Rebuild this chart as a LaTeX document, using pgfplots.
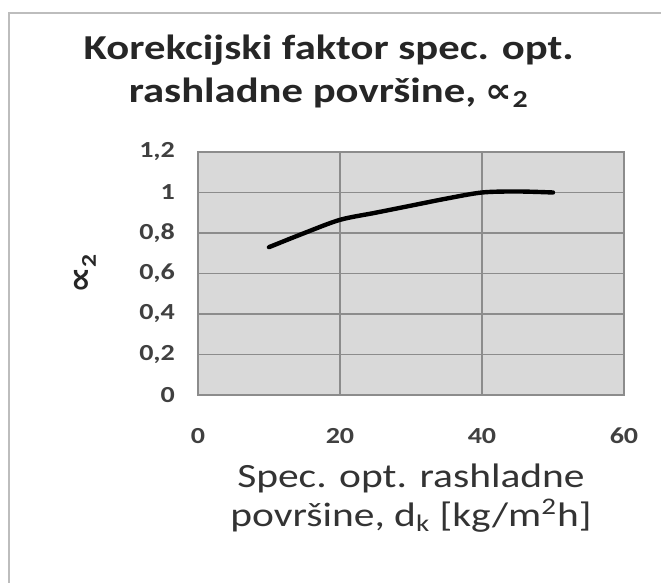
\documentclass[border=0pt]{standalone}
\usepackage{fontspec}
\setmainfont{Carlito}[FakeStretch=1.22]
\newfontfamily\dejavu{DejaVu Sans}[FakeStretch=1.1]
\usepackage{pgfplots}
\pgfplotsset{compat=1.18}
\definecolor{plotbg}{HTML}{D9D9D9}
\definecolor{gridgray}{HTML}{8C8C8C}
\definecolor{framegray}{HTML}{BDBDBD}
\begin{document}
\begin{tikzpicture}
  % page = 661 x 583 px at 0.5pt per px
  \path[use as bounding box] (0,0) rectangle (330.5pt,291.5pt);
  \draw[framegray, line width=1.3pt] (4.5pt,-10pt) rectangle (345pt,285pt);
  \begin{axis}[
    at={(99pt,94pt)}, anchor=south west,
    scale only axis,
    width=213pt, height=121.5pt,
    xmin=0, xmax=60, ymin=0, ymax=1.2,
    xtick={0,20,40,60},
    ytick={0,0.2,0.4,0.6,0.8,1,1.2},
    major tick length=0pt,
    grid=major,
    grid style={gridgray, line width=0.6pt},
    axis line style={gridgray, line width=0.6pt},
    axis background/.style={fill=plotbg},
    /pgf/number format/use comma,
    /pgf/number format/assume math mode=true,
    ticklabel style={font=\fontsize{11.5}{13}\selectfont\bfseries, text=black!75},
    yticklabel style={xshift=-8pt},
    xticklabel style={yshift=-13pt},
    title={Korekcijski faktor spec. opt.\\rashladne površine, {\dejavu\fontsize{17}{17}\selectfont ∝}\textsubscript{2}},
    title style={at={(axis description cs:0.307,1.284)}, anchor=center, align=center,
      font=\fontsize{17.5}{21.5}\selectfont\bfseries, text=black!85},
    xlabel={Spec. opt. rashladne\\površine, d\textsubscript{k} [kg/m\textsuperscript{2}h]},
    xlabel style={at={(axis description cs:0.5,-0.425)}, anchor=center, align=center,
      font=\fontsize{17}{19.5}\selectfont, text=black!80},
    ylabel={{\dejavu\fontsize{17}{17}\selectfont ∝}\textsubscript{2}},
    ylabel style={at={(axis description cs:-0.265,0.5)}, anchor=center,
      font=\fontsize{15}{18}\selectfont\bfseries, text=black!85},
  ]
    \addplot[black, line width=2.2pt, smooth, line cap=round] coordinates {
      (10,0.73) (15,0.80) (20,0.865) (25,0.90) (30,0.935) (35,0.97) (40,1.0) (45,1.005) (50,1.0)
    };
  \end{axis}
\end{tikzpicture}
\end{document}
